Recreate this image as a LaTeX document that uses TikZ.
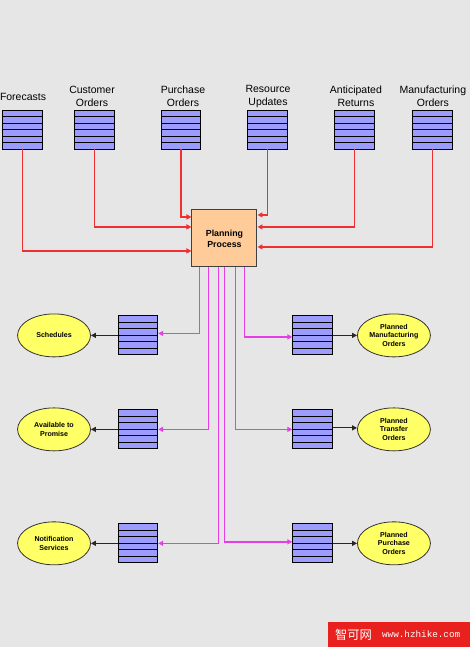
\documentclass[tikz,border=0pt]{standalone}
\usepackage{fontspec}
\setmainfont{Liberation Sans}
\newfontfamily\cjkfont{Noto Sans CJK SC}
\newfontfamily\wmmono{Liberation Mono}
\usetikzlibrary{arrows.meta,shapes.geometric,calc}
\definecolor{bgcol}{HTML}{E6E6E6}
\definecolor{storeblue}{HTML}{9C9CFF}
\definecolor{peach}{HTML}{FFCC99}
\definecolor{ellyellow}{HTML}{FFFF66}
\definecolor{linered}{HTML}{F03030}
\definecolor{linemag}{HTML}{E83CE8}
\definecolor{wmred}{HTML}{E8201E}
\begin{document}
\begin{tikzpicture}[x=1pt,y=-1pt,
  store/.style={draw=black, fill=storeblue, minimum width=39.5pt, minimum height=39pt,
    inner sep=0pt, line width=0.9pt,
    path picture={\foreach \k in {1,...,5}{\draw[line width=0.9pt]
      ($(path picture bounding box.north west)!\k/6!(path picture bounding box.south west)$) --
      ($(path picture bounding box.north east)!\k/6!(path picture bounding box.south east)$);}}},
  toplabel/.style={align=center, font=\fontsize{10.5}{13}\selectfont, inner sep=0pt},
  proc/.style={draw=black!75, fill=peach, line width=1pt, minimum width=65pt, minimum height=57pt,
    inner sep=0pt, align=center, font=\bfseries\fontsize{8.8}{11}\selectfont},
  ell/.style={ellipse, draw=black!80, fill=ellyellow, line width=0.8pt, minimum width=73pt,
    minimum height=43pt, inner sep=0pt, align=center, font=\bfseries\fontsize{7.1}{8.7}\selectfont},
  inarrow/.style={draw=linered, line width=1.4pt, -{Triangle[length=5pt,width=5pt]}},
  outarrow/.style={draw=linemag, line width=1.5pt, -{Triangle[length=5pt,width=5pt]}},
  blkarrow/.style={draw=black!85, line width=1.2pt, -{Triangle[length=5pt,width=5pt]}}
]
\fill[bgcol] (0,0) rectangle (470,647);

% top stores
\node[store] (fc) at (22.5,129.5) {};
\node[store] (co) at (94.5,129.5) {};
\node[store] (po) at (181,129.5) {};
\node[store] (ru) at (267.5,129.5) {};
\node[store] (ar) at (354.5,129.5) {};
\node[store] (mo) at (432.5,129.5) {};

\node[toplabel] (fcl) at (23,96.5) {Forecasts};
\node[toplabel] (col) at (92,96.5) {Customer\\Orders};
\node[toplabel] (pol) at (183,96.5) {Purchase\\Orders};
\node[toplabel] (rul) at (268,96.5) {Resource\\Updates};
\node[toplabel] (arl) at (356,96.5) {Anticipated\\Returns};
\node[toplabel] (mol) at (433,96.5) {Manufacturing\\Orders};

% planning process
\node[proc] (pp) at (224.5,238.5) {Planning\\Process};

% red inputs
\draw[inarrow] (fc.south) |- ($(pp.west)+(0,12.5)$);
\draw[inarrow] (co.south) |- ($(pp.west)+(0,-11.5)$);
\draw[inarrow] (po.south) |- ($(pp.west)+(0,-21.5)$);
\draw[inarrow] (ru.south) |- ($(pp.east)+(0,-23.5)$);
\draw[inarrow] (ar.south) |- ($(pp.east)+(0,-11.5)$);
\draw[inarrow] (mo.south) |- ($(pp.east)+(0,8.5)$);

% output stores
\node[store] (sch) at (138,335.5) {};
\node[store] (ava) at (138,429.5) {};
\node[store] (nos) at (138,543.5) {};
\node[store] (pmo) at (312.5,335.5) {};
\node[store] (pto) at (312.5,429.5) {};
\node[store] (ppo) at (312.5,543.5) {};

% ellipses
\node[ell] (e1) at (54,335.5) {Schedules};
\node[ell] (e2) at (54,429.5) {Available to\\Promise};
\node[ell] (e3) at (54,543.5) {Notification\\Services};
\node[ell] (r1) at (394,335.5) {Planned\\Manufacturing\\Orders};
\node[ell] (r2) at (394,429.5) {Planned\\Transfer\\Orders};
\node[ell] (r3) at (394,543.5) {Planned\\Purchase\\Orders};

% magenta outputs
\draw[outarrow] ($(pp.south)+(-25,0)$) |- ($(sch.east)+(0,-2)$);
\draw[outarrow] ($(pp.south)+(-16,0)$) |- (ava.east);
\draw[outarrow] ($(pp.south)+(-6,0)$) |- (nos.east);
\draw[outarrow] ($(pp.south)+(0,0)$) |- ($(ppo.west)+(0,-1.5)$);
\draw[outarrow] ($(pp.south)+(11,0)$) |- (pto.west);
\draw[outarrow] ($(pp.south)+(20,0)$) |- ($(pmo.west)+(0,1.5)$);

% black arrows
\draw[blkarrow] (sch.west) -- (e1.east);
\draw[blkarrow] (ava.west) -- (e2.east);
\draw[blkarrow] (nos.west) -- (e3.east);
\draw[blkarrow] (pmo.east) -- (r1.west);
\draw[blkarrow] ($(pto.east)+(0,-1.5)$) -- ($(r2.west)+(0,-1.5)$);
\draw[blkarrow] (ppo.east) -- (r3.west);

% watermark
\node[fill=wmred, minimum width=142pt, minimum height=25pt, inner sep=0pt, anchor=north west] (wm) at (328,622) {};
\node[text=white, font=\cjkfont\fontsize{12.3}{14}\selectfont, anchor=west, inner sep=0pt] (wmc) at (335,634.5) {智可网};
\node[text=white, font=\wmmono\fontsize{9.3}{11}\selectfont, anchor=west, inner sep=0pt] (wmu) at (382,634.5) {www.hzhike.com};
\end{tikzpicture}
\end{document}
